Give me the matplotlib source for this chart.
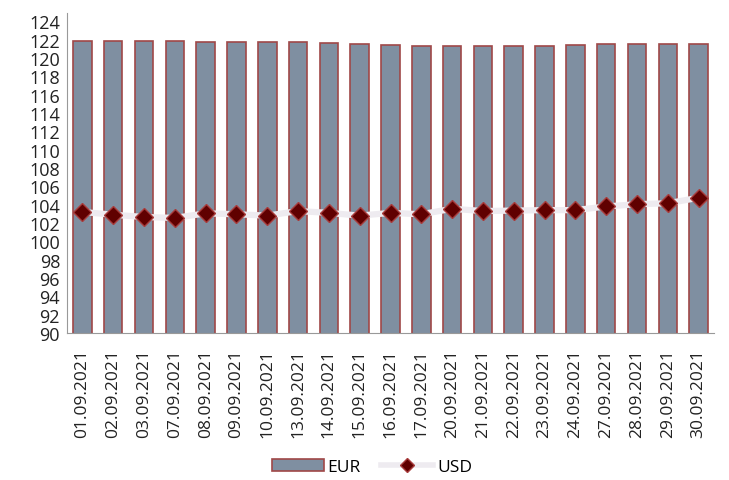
import matplotlib.pyplot as plt

dates = ['01.09.2021', '02.09.2021', '03.09.2021', '07.09.2021', '08.09.2021',
         '09.09.2021', '10.09.2021', '13.09.2021', '14.09.2021', '15.09.2021',
         '16.09.2021', '17.09.2021', '20.09.2021', '21.09.2021', '22.09.2021',
         '23.09.2021', '24.09.2021', '27.09.2021', '28.09.2021', '29.09.2021',
         '30.09.2021']
eur = [121.9, 121.85, 121.8, 121.8, 121.75, 121.75, 121.75, 121.75, 121.6, 121.55,
       121.4, 121.3, 121.3, 121.3, 121.3, 121.3, 121.4, 121.5, 121.5, 121.55, 121.5]
usd = [103.2, 102.9, 102.65, 102.55, 103.05, 102.95, 102.8, 103.3, 103.1, 102.8,
       103.1, 102.95, 103.55, 103.3, 103.35, 103.4, 103.4, 103.8, 104.05, 104.15, 104.75]
yticks = list(range(90, 125, 2))

plt.rcParams['font.family'] = ['Open Sans', 'DejaVu Sans']

fig = plt.figure(figsize=(7.29, 4.81), dpi=100)
ax = fig.add_axes([67/729, 1 - 334/481, (714-67)/729, (334-14)/481])

x = list(range(len(dates)))
bars = ax.bar(x, eur, width=0.6, color='#7f8fa1', edgecolor='#a04848',
              linewidth=1.2, label='EUR', zorder=2)
ax.plot(x, usd, color='#eeebf0', linewidth=4.5, zorder=3)
ax.plot(x, usd, linestyle='none', marker='D', markersize=9, color='#600000',
        markeredgecolor='#a83c3c', markeredgewidth=1, zorder=4)
# legend proxy
usd_handle, = ax.plot([], [], color='#eeebf0', linewidth=4, marker='D', markersize=7,
                      markerfacecolor='#600000', markeredgecolor='#a83c3c', label='USD')

ax.set_ylim(90, 124.9)
ax.set_xlim(-0.5, len(dates) - 0.5)
ax.set_yticks(yticks)
ax.set_xticks(x)
ax.set_xticklabels(dates, rotation=90, fontsize=12.5, color='#222222')
ax.tick_params(axis='y', labelsize=13, length=0, pad=5, labelcolor='#222222')
ax.tick_params(axis='x', length=0, pad=11)

for s in ['top', 'right']:
    ax.spines[s].set_visible(False)
ax.spines['left'].set_color('#999999')
ax.spines['bottom'].set_color('#999999')

fig.legend(handles=[bars, usd_handle], labels=['EUR', 'USD'],
           loc='center', bbox_to_anchor=(0.51, 1 - 468/481), ncol=2, frameon=False,
           fontsize=12.5, handlelength=3.0, columnspacing=1.2, handletextpad=0.2)

fig.savefig('out.png', dpi=100)
